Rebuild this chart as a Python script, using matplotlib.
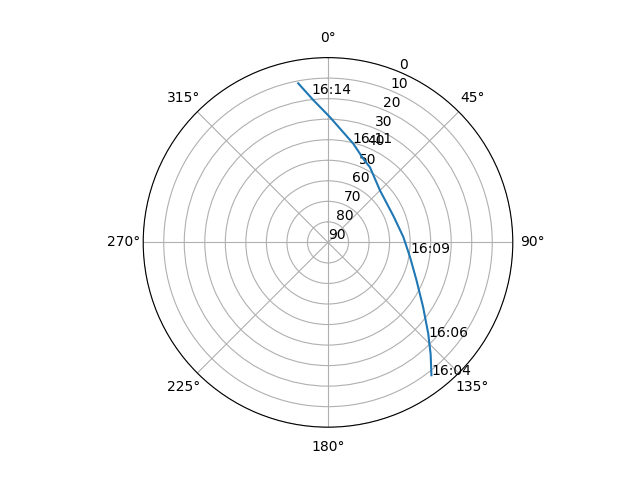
import numpy as np
import matplotlib
matplotlib.use("Agg")
import matplotlib.pyplot as plt

# Satellite track: azimuth (deg, clockwise from North) and elevation (deg)
track_az = [142.1, 137.5, 132.3, 124.2, 113.2, 100.2, 86.0, 68.8, 45.0,
            29.2, 23.3, 14.4, 0.9, 354.1, 349.4]
track_el = [8.0, 16.0, 24.0, 34.0, 43.1, 49.4, 53.2, 55.6, 54.2,
            48.1, 46.0, 40.4, 29.0, 20.3, 11.2]

# Time labels along the track
label_times = ["16:04", "16:06", "16:09", "16:11", "16:14"]
label_az = [142.1, 133.3, 97.5, 14.0, 353.5]
label_el = [8.0, 22.5, 49.3, 39.9, 17.1]

r_ticks = [0, 10, 20, 30, 40, 50, 60, 70, 80, 90]

fig = plt.figure(figsize=(6.4, 4.8), dpi=100)
ax = fig.add_subplot(111, projection="polar")
ax.set_theta_zero_location("N")
ax.set_theta_direction(-1)

theta = np.unwrap(np.radians(track_az))
ax.plot(theta, track_el)

for t, a, e in zip(label_times, label_az, label_el):
    ax.text(np.radians(a), e, t)

ax.set_ylim(90, 0)
ax.set_yticks(r_ticks)
ax.grid(True)

fig.savefig("out.png")
